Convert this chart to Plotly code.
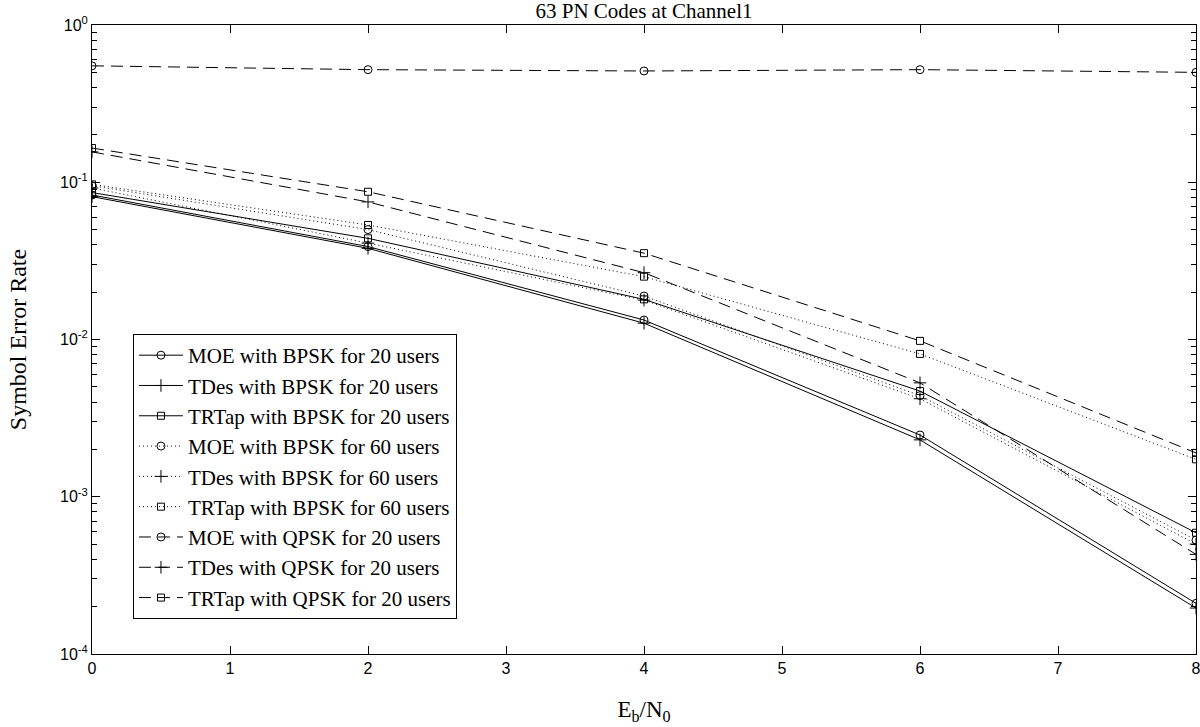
import plotly.graph_objects as go

ebn0 = [0, 2, 4, 6, 8]

moe_bpsk_20 = [0.083, 0.039, 0.0133, 0.00247, 0.00021]
tdes_bpsk_20 = [0.081, 0.038, 0.0127, 0.0023, 0.000196]
trtap_bpsk_20 = [0.086, 0.044, 0.018, 0.0047, 0.00059]
moe_bpsk_60 = [0.095, 0.050, 0.0189, 0.0044, 0.00053]
tdes_bpsk_60 = [0.092, 0.041, 0.0178, 0.0042, 0.0005]
trtap_bpsk_60 = [0.097, 0.0535, 0.0251, 0.0081, 0.00173]
moe_qpsk_20 = [0.55, 0.52, 0.51, 0.52, 0.50]
tdes_qpsk_20 = [0.156, 0.075, 0.0266, 0.0053, 0.00043]
trtap_qpsk_20 = [0.165, 0.087, 0.0354, 0.0098, 0.0019]

series = [
    ("MOE with BPSK for 20 users", moe_bpsk_20, "solid", "circle-open"),
    ("TDes with BPSK for 20 users", tdes_bpsk_20, "solid", "cross-thin-open"),
    ("TRTap with BPSK for 20 users", trtap_bpsk_20, "solid", "square-open"),
    ("MOE with BPSK for 60 users", moe_bpsk_60, "1px,3px", "circle-open"),
    ("TDes with BPSK for 60 users", tdes_bpsk_60, "1px,3px", "cross-thin-open"),
    ("TRTap with BPSK for 60 users", trtap_bpsk_60, "1px,3px", "square-open"),
    ("MOE with QPSK for 20 users", moe_qpsk_20, "12px,7px", "circle-open"),
    ("TDes with QPSK for 20 users", tdes_qpsk_20, "12px,7px", "cross-thin-open"),
    ("TRTap with QPSK for 20 users", trtap_qpsk_20, "12px,7px", "square-open"),
]

y_tickvals = [1e-4, 1e-3, 1e-2, 1e-1, 1]
y_ticktext = ["10<sup>-4</sup>", "10<sup>-3</sup>", "10<sup>-2</sup>", "10<sup>-1</sup>", "10<sup>0</sup>"]
x_tickvals = [0, 1, 2, 3, 4, 5, 6, 7, 8]

minor_vals = [m * 10 ** e for e in range(-4, 0) for m in range(2, 10)]

sizes = {"circle-open": 8, "square-open": 7, "cross-thin-open": 9}

fig = go.Figure()
for name, vals, dash, sym in series:
    fig.add_trace(go.Scatter(
        x=ebn0, y=vals, name=name, mode="lines+markers",
        line=dict(color="black", width=1, dash=dash),
        marker=dict(symbol=sym, size=sizes[sym],
                    color="black", line=dict(color="black", width=1)),
    ))

serif = "Liberation Serif, Times New Roman, serif"
sans = "Liberation Sans, Arial, sans-serif"

W, H = 1200, 727
fig.update_layout(
    width=W, height=H,
    margin=dict(l=92, r=4, t=25, b=73, autoexpand=False),
    paper_bgcolor="white", plot_bgcolor="white",
    title=dict(text="63 PN Codes at Channel1", x=0.5, xref="paper",
               yref="container", y=1 - 11.0 / H, yanchor="middle",
               font=dict(family=serif, size=21, color="black")),
    legend=dict(x=0.0371, y=0.5087, xanchor="left", yanchor="top",
                bordercolor="black", borderwidth=1, bgcolor="white",
                font=dict(family=serif, size=21, color="black"),
                itemwidth=44, tracegroupgap=0),
    showlegend=True,
)
fig.update_xaxes(
    range=[0, 8], tickvals=x_tickvals, ticks="inside", ticklen=8,
    showgrid=False, zeroline=False, showline=True, linecolor="black", linewidth=1,
    mirror="allticks", tickcolor="black", automargin=False,
    ticklabeloverflow="allow",
    tickfont=dict(family=sans, size=16, color="black"),
    title=dict(text="E<sub>b</sub>/N<sub>0</sub>", font=dict(family=serif, size=23, color="black"), standoff=24),
)
fig.update_yaxes(
    type="log", range=[-4, 0], tickmode="array", tickvals=y_tickvals, ticktext=y_ticktext,
    ticks="inside", ticklen=8, tickcolor="black", automargin=False,
    minor=dict(tickmode="array", tickvals=minor_vals, ticks="inside", ticklen=5,
               tickcolor="black", tickwidth=1, showgrid=False),
    showgrid=False, zeroline=False, showline=True, linecolor="black", linewidth=1,
    mirror="allticks",
    tickfont=dict(family=sans, size=16, color="black"),
    title=dict(text="Symbol Error Rate", font=dict(family=serif, size=24, color="black"), standoff=26),
)

fig.write_html("out.html", config={"displayModeBar": False},
               post_script="document.body.style.margin='0px';")
